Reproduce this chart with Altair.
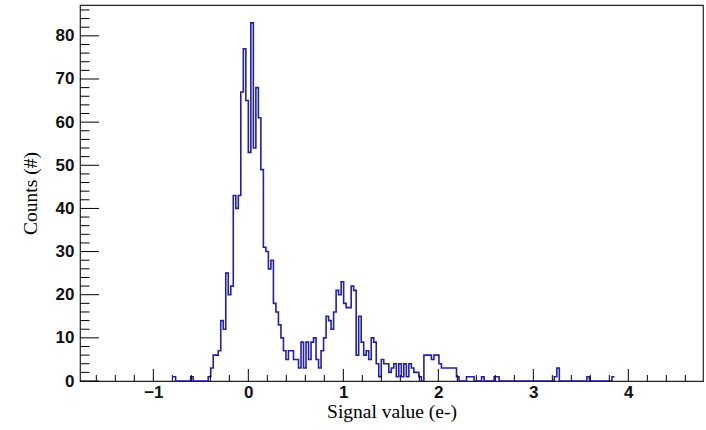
import altair as alt
import numpy as np
import pandas as pd

# ---- data ----
bin_start = -0.792      # left edge of first listed bin (e-)
bin_width = 0.0264      # bin width (e-)
counts = [
    1, 0, 0, 0, 0, 0, 0, 1, 0, 0, 0, 0, 0, 0,          # -0.79 .. -0.45
    1, 3, 6, 6, 7, 14, 12, 25, 20, 22,                 # rising edge
    43, 40, 43, 67, 77, 65, 53, 83, 54, 68, 61, 49,    # zero-electron peak
    31, 30, 26, 28, 18, 16, 13, 10, 7, 5,
    7, 7, 5, 5, 3, 9, 3, 9, 5, 9, 10, 5, 3, 7, 10,
    15, 14, 12, 16, 21, 20, 23, 18, 17, 17, 22, 21,    # one-electron peak
    6, 15, 9, 6, 7, 5, 10, 9, 4, 1,
    5, 4, 4, 2, 3, 4, 1, 4, 1, 4, 1, 4, 3, 2, 2, 1, 0,
    6, 6, 6, 5, 6, 6, 4, 3, 3, 3, 3, 3, 3, 1,          # two-electron bump
    0, 0, 0, 1, 1, 1, 0, 0, 0, 1, 0, 0, 0, 0, 1, 1,
    0, 0, 0, 0, 0, 0, 0, 0, 0, 0, 0, 0, 0, 0, 0, 0, 0, 0, 0, 0, 0, 0,
    1, 3,
    0, 0, 0, 0, 0, 0, 0, 0, 0, 0, 0,
    1,
    0, 0, 0, 0, 0, 0, 0, 0, 0,
    1,
]

x_domain = [-1.772, 4.786]
y_domain = [0, 87.15]
x_major = [-1, 0, 1, 2, 3, 4]
y_major = [0, 10, 20, 30, 40, 50, 60, 70, 80]
x_minor = [v for v in np.round(np.arange(-1.6, 4.79, 0.2), 1) if abs(v - round(v)) > 1e-6]
y_minor = [v for v in range(2, 87, 2) if v % 10 != 0]

x_title = "Signal value (e-)"
y_title = "Counts (#)"

# ---- build step outline from the bins ----
edges = bin_start + bin_width * np.arange(len(counts) + 1)
hist = pd.DataFrame({"x": edges, "y": counts + [counts[-1]]})

W, H = 623, 376
xs = alt.Scale(domain=x_domain, nice=False, zero=False)
ys = alt.Scale(domain=y_domain, nice=False, zero=False)

x_axis = alt.Axis(
    values=x_major, title=x_title, ticks=False, domain=False, grid=False,
    labelPadding=3, labelFontSize=17, labelFont="Liberation Sans", labelFontWeight="bold",
    labelColor="#111", titleFont="Liberation Serif", titleFontSize=19.5,
    titleFontWeight="normal", titleColor="#000", titlePadding=2)
y_axis = alt.Axis(
    values=y_major, title=y_title, ticks=False, domain=False, grid=False,
    labelPadding=6, labelFontSize=17, labelFont="Liberation Sans", labelFontWeight="bold",
    labelColor="#111", titleFont="Liberation Serif", titleFontSize=19.5,
    titleFontWeight="normal", titleColor="#000", titlePadding=15)

line_col = "#2020a8"

hist_line = alt.Chart(hist).mark_line(
    interpolate="step-after", color=line_col, strokeWidth=1.6, clip=True
).encode(
    x=alt.X("x:Q", scale=xs, axis=x_axis),
    y=alt.Y("y:Q", scale=ys, axis=y_axis),
)

tick_col = "#000"
xt_major = alt.Chart(pd.DataFrame({"x": x_major})).mark_rule(color=tick_col, strokeWidth=1).encode(
    x=alt.X("x:Q", scale=xs, axis=x_axis), y=alt.value(H), y2=alt.value(H - 12))
xt_minor = alt.Chart(pd.DataFrame({"x": x_minor})).mark_rule(color=tick_col, strokeWidth=1).encode(
    x=alt.X("x:Q", scale=xs, axis=x_axis), y=alt.value(H), y2=alt.value(H - 6))
yt_major = alt.Chart(pd.DataFrame({"y": y_major})).mark_rule(color=tick_col, strokeWidth=1).encode(
    y=alt.Y("y:Q", scale=ys, axis=y_axis), x=alt.value(0), x2=alt.value(19))
yt_minor = alt.Chart(pd.DataFrame({"y": y_minor})).mark_rule(color=tick_col, strokeWidth=1).encode(
    y=alt.Y("y:Q", scale=ys, axis=y_axis), x=alt.value(0), x2=alt.value(9.5))

chart = alt.layer(hist_line, xt_major, xt_minor, yt_major, yt_minor).properties(
    width=W, height=H,
    padding={"left": 80, "top": 5, "right": 3, "bottom": 49},
    autosize=alt.AutoSizeParams(type="none"),
    background="white",
).configure_view(stroke="#222", strokeWidth=1.2)

chart.save("out.html", embed_options={"renderer": "svg", "actions": False})
